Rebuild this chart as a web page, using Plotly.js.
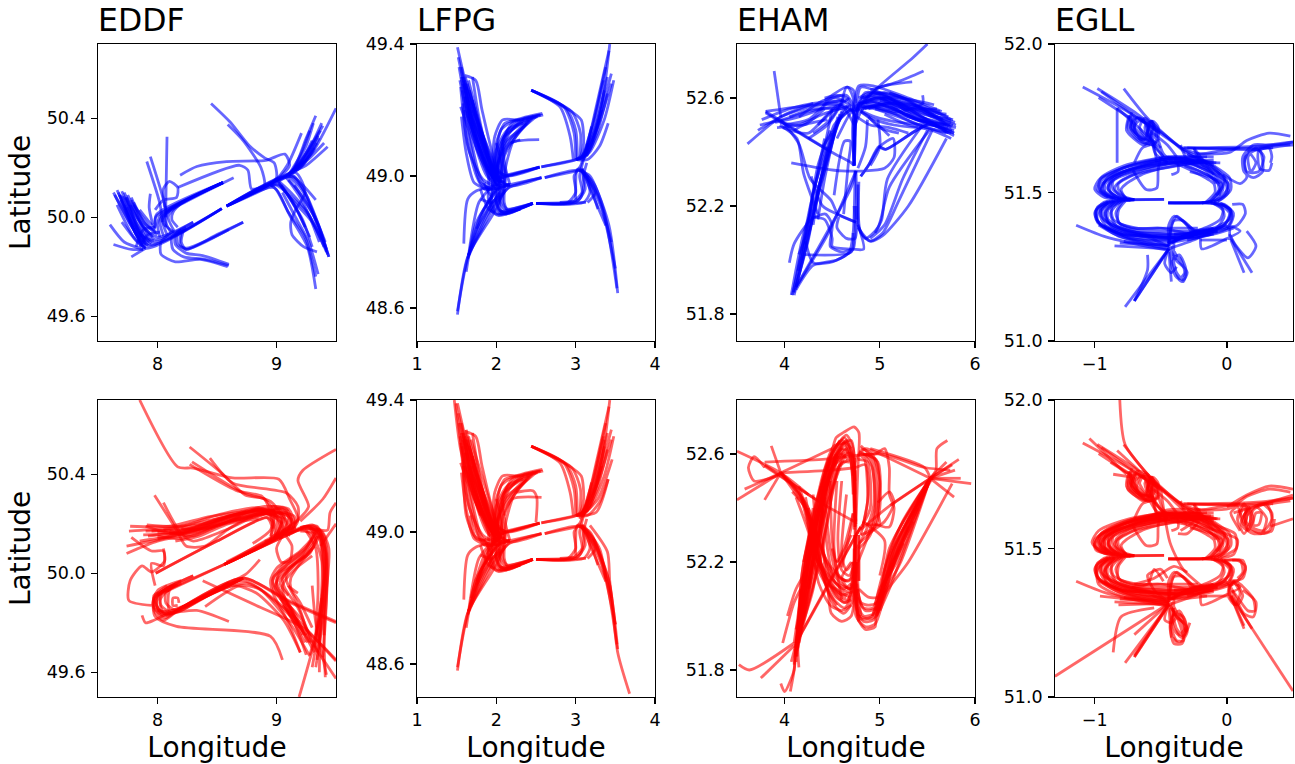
<!DOCTYPE html>
<html><head><meta charset="utf-8">
<script src="https://cdn.plot.ly/plotly-3.0.1.min.js"></script>
<style>html,body{margin:0;padding:0;background:#fff}</style></head>
<body><div id="chart" style="width:1295px;height:764px"></div>
<script>
// Each track is a flat list: lon,lat,lon,lat,...
const airports=["EDDF","LFPG","EHAM","EGLL"];
const eddfBlue=[
[7.63,50.10,7.80,49.95,7.90,49.875,8.54,50.035],[7.66,50.11,7.82,49.96,7.92,49.885,8.54,50.035],
[7.70,50.105,7.84,49.96,7.94,49.89,8.54,50.035],[7.72,50.10,7.86,49.97,7.96,49.90,8.54,50.035],
[7.75,50.09,7.87,49.97,7.98,49.91,8.3,49.98],[7.78,50.07,7.88,49.96,8.00,49.92,8.3,49.98],
[7.68,50.09,7.80,49.96,7.92,49.885],[7.74,50.08,7.84,49.94,7.95,49.895],[7.77,50.05,7.86,49.93,7.97,49.905],
[7.66,50.05,7.80,49.92,7.90,49.875],[7.70,49.98,7.83,49.90,7.90,49.875],[7.60,49.97,7.72,49.90,7.88,49.87],
[7.63,49.89,7.78,49.87,7.88,49.87],[7.78,49.84,7.90,49.875],
[7.64,50.09,7.76,49.98,7.88,49.89],[7.67,50.10,7.78,49.98,7.9,49.89],[7.69,50.09,7.79,49.99,7.9,49.9],[7.71,50.085,7.82,49.98,7.93,49.9],[7.73,50.08,7.84,49.99,7.96,49.92],
[7.69,50.07,7.78,49.97,7.86,49.9],[7.72,50.05,7.8,49.95,7.88,49.88],[7.74,50.04,7.82,49.93,7.9,49.885],[7.78,50.08,7.88,49.98,7.99,49.94],[7.8,50.06,7.9,49.97,8.0,49.93],
[7.82,49.88,7.88,49.95,7.98,49.96],[7.85,49.88,7.92,49.93,8.02,49.94],
[9.21,50.34,9.09,50.21,8.98,50.145,8.58,50.045],[9.33,50.41,9.25,50.32,9.12,50.18,8.58,50.045],
[9.39,50.37,9.22,50.24,9.10,50.175,8.58,50.045],[9.36,50.32,9.22,50.22,9.10,50.175,8.58,50.045],
[9.5,50.44,9.30,50.26,9.16,50.19],[9.43,50.285,9.25,50.21,9.16,50.19],[9.31,50.38,9.25,50.29,9.13,50.18],
[9.35,50.33,9.23,50.23,9.12,50.18],[9.34,50.30,9.22,50.21,9.11,50.17],[9.32,50.28,9.2,50.2,9.1,50.17],
[9.37,50.35,9.25,50.25,9.14,50.185],[9.30,50.31,9.2,50.22,9.1,50.17],[9.28,50.35,9.2,50.25,9.1,50.17],[9.38,50.38,9.28,50.28,9.15,50.19],[9.4,50.3,9.28,50.24,9.14,50.185],
[9.44,49.84,9.36,49.96,9.25,50.09,9.13,50.17,8.58,50.045],[9.43,49.85,9.34,49.97,9.24,50.10,9.12,50.165,8.58,50.045],
[9.41,49.90,9.30,50.03,9.20,50.12,9.10,50.165],[9.33,49.71,9.26,49.88,9.12,50.00,9.0,50.11,8.94,50.135],
[9.33,49.76,9.24,49.92,9.10,50.02,8.98,50.12,8.6,50.05],[9.33,50.07,9.22,50.13,9.13,50.165,8.6,50.05],
[9.34,49.86,9.23,49.88,9.13,49.93,9.12,49.98,9.16,50.03,9.24,50.10,9.16,50.18,8.6,50.05],
[9.42,49.86,9.30,49.98,9.15,50.06,9.02,50.13,8.95,50.13],[9.40,49.88,9.27,50.01,9.13,50.08,9.0,50.13,8.95,50.125],
[9.44,49.84,9.32,50.00,9.16,50.12,9.08,50.16],[9.38,49.91,9.26,50.02,9.12,50.10,9.02,50.145],
[9.42,49.87,9.35,49.97,9.25,50.06,9.15,50.13],[9.36,49.9,9.28,50.0,9.2,50.08,9.1,50.15],[9.3,49.88,9.22,49.99,9.12,50.07,9.02,50.14],[9.28,49.92,9.18,50.02,9.08,50.1,9.0,50.15],[9.24,49.96,9.14,50.06,9.04,50.13],[9.35,49.77,9.27,49.9,9.16,50.0,9.05,50.1],
[8.45,50.46,8.61,50.385,8.77,50.29,8.90,50.24,8.98,50.22,9.0,50.16,8.93,50.13],
[8.59,50.375,8.72,50.31,8.87,50.2,8.90,50.13,8.85,50.11],
[8.19,50.17,8.33,50.205,8.58,50.225,8.91,50.23,9.07,50.255,9.11,50.21,9.01,50.155,8.6,50.05],
[7.98,50.03,8.05,50.07,8.16,50.08,8.17,50.12,8.10,50.145,8.05,50.115,8.06,50.04],
[8.17,50.12,8.69,50.21,8.76,50.19,8.79,50.115,8.9,50.125],
[8.08,50.325,8.07,50.055,8.07,50.0],[7.94,50.245,8.07,50.03,8.07,49.96],[7.91,50.225,8.02,50.055,8.04,49.98],
[7.94,50.095,7.93,50.04,7.96,49.97],
[7.85,50.03,7.98,49.96,7.985,50.0,8.55,50.14],[7.80,50.05,7.97,49.95,7.99,50.01,8.55,50.14],
[8.64,50.16,8.2,50.053,8.06,50.01,8.05,49.975,8.14,49.94],[8.55,50.14,8.15,50.04,8.09,50.0,8.14,49.945],
[8.55,50.14,8.12,50.035,8.06,49.995,8.11,49.94],[8.55,50.14,8.1,50.03,8.04,49.99,8.08,49.93],
[8.55,50.14,8.07,50.02,8.02,49.985,8.05,49.925],[8.55,50.14,8.04,50.015,8.0,49.975,8.02,49.92],[8.55,50.14,8.2,50.055,8.13,50.02,8.12,49.99,8.17,49.96],
[8.72,49.98,8.24,49.875,8.17,49.89,8.17,49.93,8.24,49.95],[8.60,49.805,8.40,49.83,8.22,49.84,8.13,49.87,8.12,49.92,8.2,49.95],
[8.60,49.81,8.38,49.845,8.24,49.855,8.15,49.89,8.15,49.93,8.24,49.96],[8.59,49.80,8.36,49.83,8.15,49.82,8.03,49.85,8.03,49.9,8.13,49.945],
[8.72,49.98,8.5,49.93,8.24,49.87,8.2,49.9,8.22,49.95],[8.6,49.95,8.24,49.87,8.19,49.89,8.2,49.94]
];
const eddfRed=[
[7.77,50.19,8.10,50.19,8.45,50.23,8.92,50.255,9.06,50.23,9.1,50.18,9.0,50.14,8.56,50.035],
[7.91,50.195,8.2,50.19,8.5,50.235,8.85,50.265,9.03,50.22,9.05,50.17,8.97,50.135,8.56,50.035],
[7.88,50.155,8.2,50.165,8.5,50.22,8.85,50.25,9.0,50.22,9.0,50.17,8.92,50.125,8.56,50.035],
[8.0,50.14,8.3,50.17,8.55,50.215,8.88,50.24,9.1,50.24,9.13,50.19,9.0,50.14,8.56,50.035],
[7.74,50.11,8.05,50.14,8.35,50.18,8.6,50.23,8.9,50.255,9.15,50.23,9.15,50.18,9.02,50.14],
[7.74,50.08,8.0,50.13,8.3,50.16,8.6,50.21,8.85,50.24,9.05,50.26,9.12,50.2,9.0,50.14],
[7.78,50.145,7.95,50.09,8.05,50.09,8.05,50.03,7.95,50.04,7.98,49.95],
[8.05,50.1,8.06,50.05,7.95,50.005,7.87,50.03,7.77,49.97,7.76,49.89,7.95,49.87],
[7.975,50.315,8.16,50.175,8.24,50.11,8.4,50.11,8.6,50.18,8.9,50.25,9.05,50.2],
[8.05,50.285,8.2,50.16,8.3,50.13,8.55,50.17,8.88,50.24,9.05,50.24],
[8.1,50.16,8.35,50.19,8.6,50.23,8.9,50.26,9.12,50.22,9.08,50.15],[7.95,50.17,8.3,50.18,8.6,50.22,8.9,50.25,9.1,50.23,9.05,50.16],
[8.05,50.175,8.4,50.21,8.7,50.24,8.95,50.26,9.03,50.19,8.98,50.14],[7.92,50.15,8.25,50.17,8.55,50.2,8.85,50.26,8.98,50.21,8.95,50.15],
[7.9,50.17,8.25,50.18,8.55,50.225,8.9,50.27,9.08,50.26,9.14,50.2],[8.0,50.165,8.3,50.165,8.6,50.21,8.9,50.24,9.06,50.22,9.02,50.15],
[7.76,50.17,8.05,50.18,8.4,50.2,8.7,50.24,8.95,50.25],[7.9,50.19,8.15,50.16,8.45,50.19,8.7,50.22,8.92,50.24],[8.0,50.15,8.2,50.14,8.45,50.18,8.7,50.23],[7.85,50.13,8.1,50.15,8.4,50.19,8.75,50.25],
[8.1,50.17,8.3,50.15,8.5,50.19,8.8,50.23],[8.2,50.18,8.4,50.18,8.6,50.21,8.85,50.23,9.0,50.26,9.1,50.25],[8.15,50.13,8.35,50.15,8.6,50.2,8.85,50.22],
[8.95,50.27,9.1,50.26,9.15,50.2,9.1,50.15],[8.92,50.25,9.02,50.26,9.08,50.2,9.03,50.14],[8.95,50.24,9.04,50.22,9.0,50.15],
[7.985,50.0,8.5,50.13,8.92,50.225,8.98,50.2,8.98,50.14,8.9,50.13],[7.985,50.0,8.5,50.13,8.92,50.225,8.96,50.19,8.95,50.13],
[7.85,50.7,8.17,50.43,8.3,50.425,8.63,50.385,9.02,50.38,9.11,50.30,9.18,50.215,8.99,50.155,8.56,50.035],
[8.27,50.51,8.55,50.4,8.74,50.315,8.9,50.30,8.98,50.245,8.95,50.175,8.8,50.12],
[8.44,50.465,8.63,50.365,9.08,50.325,9.18,50.27,9.17,50.2,9.0,50.145],[8.27,50.44,8.66,50.335,8.88,50.31,8.94,50.26,8.97,50.18],
[8.29,50.45,8.72,50.325,8.95,50.29,9.05,50.22,9.0,50.15],
[9.5,50.5,9.22,50.415,9.18,50.375,9.27,50.27,9.2,50.225,9.0,50.15],[9.5,50.385,9.39,50.3,9.2,50.21],
[9.5,50.285,9.45,50.245,9.43,50.175,9.36,50.175,9.33,50.18],[9.5,50.2,9.37,50.11],
[9.33,49.62,9.4,49.85,9.44,50.1,9.38,50.17,9.28,50.19,9.14,50.165,8.56,50.035],[9.41,49.58,9.4,49.75,9.43,50.0,9.4,50.15,9.3,50.195,9.14,50.165,8.56,50.035],
[9.28,49.67,9.38,49.85,9.42,50.05,9.38,50.15,9.26,50.19,9.12,50.16],[9.4,49.75,9.4,49.9,9.4,50.1,9.33,50.18,9.2,50.18],
[9.36,49.73,9.41,49.95,9.36,50.15,9.25,50.19,9.1,50.16],[9.39,49.66,9.42,49.9,9.41,50.08,9.34,50.19,9.2,50.185],
[9.32,49.7,9.38,49.9,9.42,50.08,9.36,50.17,9.24,50.18],[9.34,49.65,9.38,49.85,9.39,50.0,9.36,50.14,9.28,50.18],[9.36,49.6,9.37,49.8,9.4,50.02,9.37,50.16],[9.3,49.62,9.36,49.8,9.38,50.05,9.3,50.17],[9.33,49.75,9.35,49.95,9.33,50.1,9.25,50.17],
[9.2,49.68,9.1,49.8,8.97,49.92,8.95,49.97,9.0,50.02,9.2,50.09,9.3,50.15,9.22,50.175,8.97,50.14],
[9.26,49.72,9.14,49.85,9.0,49.93,8.97,49.97,9.05,50.03,9.24,50.1,9.32,50.16,9.2,50.17],
[9.22,49.75,9.1,49.88,9.03,49.93,9.0,49.97,9.08,50.03,9.26,50.1,9.34,50.17,9.2,50.18],
[9.1,49.91,9.03,49.96,9.1,50.01,9.27,50.08,9.36,50.16,9.26,50.19],[9.3,49.72,9.18,49.86,9.07,49.94,9.05,49.98,9.13,50.03,9.28,50.08,9.34,50.15],
[9.18,49.92,9.1,49.95,9.08,49.99,9.16,50.04,9.3,50.1],[9.3,49.78,9.2,49.88,9.12,49.94,9.12,49.98,9.2,50.04,9.32,50.11],
[9.25,49.75,9.1,49.86,8.98,49.93,8.97,49.98,9.05,50.02,9.22,50.08,9.33,50.17],[9.2,49.78,9.06,49.9,9.0,49.95,9.02,50.0,9.12,50.03,9.25,50.08,9.35,50.15],
[9.24,49.72,9.1,49.84,9.03,49.91,8.99,49.95,9.08,50.01,9.24,50.07],[9.18,49.8,9.07,49.9,9.05,49.95,9.14,50.01,9.3,50.07],
[9.28,49.72,9.2,49.85,9.1,49.95],[9.25,49.67,9.15,49.8,9.03,49.9],[9.35,49.68,9.2,49.82,9.08,49.88],[9.32,49.68,9.2,49.78,9.05,49.87],
[9.05,50.15,9.0,50.1,9.04,50.045,9.11,50.05,9.13,50.11,9.08,50.15],
[9.5,49.805,9.1,49.89,8.72,49.98,8.2,49.86],[9.5,49.8,9.1,49.885,8.72,49.98,8.2,49.86],[9.5,49.645,9.08,49.855,8.72,49.97,8.2,49.86],[9.5,49.575,9.12,49.825,8.75,49.96,8.22,49.86],
[9.2,49.68,9.06,49.81,8.83,49.92,8.64,49.95,8.3,49.88],[9.28,49.665,9.11,49.8,8.86,49.935,8.69,49.95,8.4,49.865],
[9.19,49.5,9.33,49.745,9.38,49.9],[9.42,49.59,9.33,49.8,9.3,49.95],
[9.05,49.65,8.95,49.745,8.16,49.785,7.98,49.825,7.97,49.9,8.08,49.95],[8.6,49.805,8.33,49.85,8.1,49.84,8.0,49.85],
[8.72,49.98,8.2,49.86,8.05,49.81,7.97,49.85,7.98,49.9,8.08,49.94,8.3,49.99],[8.72,49.98,8.2,49.86,8.08,49.83,8.0,49.86,8.0,49.91,8.1,49.945,8.3,49.99],
[8.72,49.98,8.2,49.86,8.12,49.84,8.03,49.87,8.03,49.92,8.13,49.95],[8.7,49.975,8.2,49.86,8.15,49.85,8.07,49.88,8.07,49.92,8.15,49.955],
[8.7,49.975,8.22,49.865,8.1,49.85,8.1,49.93,8.17,49.955],[8.18,49.88,8.17,49.9,8.13,49.9,8.13,49.87,8.17,49.87],
[8.6,49.96,8.2,49.86,8.06,49.82,7.98,49.86,7.97,49.91,8.05,49.93,8.1,49.93],[8.6,49.96,8.18,49.85,8.04,49.83,7.96,49.87,8.0,49.93,8.2,49.97],
[8.6,49.96,8.15,49.84,8.03,49.84,7.99,49.88,8.03,49.92,8.12,49.95],[8.5,49.93,8.12,49.85,8.02,49.85,7.98,49.89,8.05,49.93,8.14,49.95],[8.4,49.91,8.2,49.85,8.05,49.84,8.02,49.89,8.08,49.93,8.2,49.96],
[7.87,49.83,7.9,49.8,7.97,49.81,8.1,49.84],[8.0,49.91,8.56,50.035],[8.0,49.915,8.56,50.035],[8.58,50.045,9.16,50.19],[8.58,50.04,9.16,50.185],
[8.86,50.055,8.74,49.995,8.55,49.95],[8.38,49.97,8.83,49.87,9.22,49.78,9.5,49.65]
];
const lfpgCommon=[
[2.13,49.003,2.546,49.027],[2.567,49.028,3.01,49.05],[2.17,48.974,2.57,48.995],[2.61,48.995,3.05,49.017],[2.04,48.89,2.46,48.917],[2.5,48.917,3.13,48.92],
[1.51,49.39,1.75,49.15,2.0,48.99,2.13,49.0,2.546,49.027],[1.56,49.3,1.72,49.13,1.97,49.0,2.13,49.0,2.546,49.027],
[1.61,49.3,1.8,49.14,2.0,49.0,2.17,48.97,2.57,48.995],[1.6,49.305,1.74,49.29,1.82,49.2,2.02,49.02,2.13,49.0,2.546,49.027],
[1.54,49.29,1.7,49.12,1.9,49.0,2.0,48.96,2.17,48.975],[1.55,49.21,1.65,49.14,1.79,49.0,1.9,48.96,2.17,48.974],
[1.58,49.28,1.72,49.16,1.96,49.01,2.06,48.97],[1.6,49.29,1.78,49.14,1.98,49.02,2.13,49.0],[1.63,49.28,1.82,49.13,2.02,49.0],
[1.55,49.27,1.62,49.12,1.75,49.0,1.85,48.96,2.17,48.974],[1.57,49.26,1.67,49.1,1.8,48.98,1.95,48.96],[1.62,49.27,1.8,49.09,1.95,49.0,2.1,48.98],
[1.66,49.26,1.86,49.08,2.0,48.97],[1.52,49.36,1.7,49.17,1.93,49.02,2.05,48.98],[1.56,49.33,1.74,49.12,1.92,49.01,2.02,48.97],
[1.53,49.33,1.66,49.17,1.85,49.04,2.0,48.98],[1.58,49.3,1.68,49.17,1.88,49.03,2.02,48.97],[1.6,49.24,1.7,49.12,1.88,49.0,2.02,48.97],[1.65,49.29,1.8,49.15,1.95,49.03,2.04,48.98],
[1.7,49.3,1.78,49.18,1.95,49.02,2.06,48.98],[1.58,49.22,1.65,49.08,1.83,48.99,1.97,48.97],[1.56,49.18,1.62,49.07,1.72,48.98,1.88,48.96],[1.66,49.2,1.83,49.05,1.98,48.98],[1.7,49.23,1.86,49.07,2.0,49.0],[1.62,49.24,1.76,49.08,1.94,48.99],
[2.59,49.185,2.3,49.17,2.08,49.17,1.98,49.12,1.96,49.04,2.04,48.98,2.17,48.974],[2.56,49.185,2.32,49.17,2.15,49.14,2.03,49.08,2.0,49.03,2.06,48.98],
[2.5,49.18,2.3,49.14,2.1,49.1,2.0,49.0],[2.45,49.175,2.25,49.12,2.1,49.06,2.06,49.0],[2.42,49.17,2.22,49.11,2.12,49.03,2.1,48.98],
[2.58,49.19,2.25,49.17,2.06,49.14,2.0,49.05,2.05,48.985],[2.55,49.185,2.2,49.16,2.08,49.1,2.12,49.02,2.17,48.975],[2.52,49.18,2.28,49.16,2.14,49.12,2.06,49.04,2.08,48.98],
[2.47,49.18,2.26,49.15,2.1,49.12,2.02,49.04,2.06,48.99],[2.4,49.17,2.2,49.12,2.08,49.08,1.98,49.0],[2.38,49.16,2.16,49.1,2.02,49.04,2.02,48.97],[2.34,49.16,2.14,49.14,2.0,49.08,1.96,49.0],[2.35,49.17,2.12,49.12,2.04,49.06,2.08,48.99],[2.3,49.17,2.11,49.16,2.0,49.1,1.98,49.02],
[1.51,48.58,1.64,48.755,1.96,48.885,2.13,48.96,2.57,48.995],[1.51,48.59,1.65,48.76,1.8,48.83,2.0,48.92,2.17,48.97],
[1.62,48.71,1.75,48.86,2.05,48.97],[1.59,48.795,1.64,48.93,1.75,48.955,2.0,48.97,2.17,48.974],[1.65,48.76,1.85,48.9,2.0,48.96],
[1.65,48.76,1.8,48.88,1.98,48.955],[1.65,48.76,1.78,48.92,1.95,48.97],[1.64,48.75,1.88,48.88,2.05,48.94],[1.67,48.78,1.9,48.9,2.08,48.96],[1.75,48.84,1.95,48.92,2.1,48.95],[1.8,48.93,1.95,48.92,2.03,48.95],[1.8,48.96,1.9,48.9,1.98,48.89],[1.85,48.98,1.93,48.94,1.98,48.98],
[1.6,49.28,1.95,49.0,1.94,48.92,2.03,48.885,2.46,48.917],[1.65,49.2,1.98,49.0,2.0,48.92,2.08,48.89,2.46,48.917],
[1.7,49.2,2.02,49.0,2.05,48.92,2.12,48.895,2.46,48.917],[2.0,49.1,2.1,49.0,2.08,48.92,2.14,48.9,2.46,48.917],
[1.6,49.2,1.9,49.0,1.9,48.93,2.0,48.885,2.46,48.917],[1.95,48.94,1.92,48.9,2.03,48.88,2.46,48.917],
[2.05,49.0,2.0,48.92,2.06,48.885,2.3,48.9],[2.12,49.0,2.1,48.92,2.15,48.895,2.3,48.9],[2.06,48.98,2.05,48.9,2.12,48.885,2.3,48.9],[2.1,48.96,2.02,48.9,2.1,48.89,2.3,48.9],
[3.43,49.4,3.32,49.2,3.18,49.08,3.01,49.05,2.567,49.028],[3.45,49.31,3.3,49.18,3.13,49.06,3.01,49.05],[3.48,49.29,3.36,49.17,3.17,49.07,3.01,49.05],
[3.41,49.16,3.3,49.09,3.15,49.05,3.01,49.05],[3.35,49.29,3.22,49.15,3.1,49.06,3.01,49.05],[3.42,49.38,3.25,49.2,3.12,49.06],[3.38,49.33,3.22,49.16,3.09,49.06],[3.40,49.25,3.27,49.13,3.14,49.06],
[3.4,49.3,3.25,49.15,3.13,49.07],[3.45,49.28,3.28,49.15,3.1,49.05],[3.33,49.2,3.2,49.1,3.05,49.05],[3.36,49.26,3.23,49.13,3.08,49.06],
[3.53,48.645,3.42,48.85,3.22,48.98,3.05,49.017,2.61,48.995],[3.52,48.66,3.35,48.9,3.18,49.0,3.05,49.017],[3.5,48.72,3.33,48.9,3.14,49.0],[3.45,48.8,3.28,48.94,3.1,49.01],
[3.38,48.85,3.2,48.95,3.08,49.02],[3.28,48.9,3.17,48.98,3.07,49.02],[3.15,48.92,3.25,48.95,3.15,49.0,3.08,49.02],
[2.5,48.917,2.9,48.92,3.0,48.95,2.98,49.0,3.06,49.03,3.15,49.1],[2.5,48.917,2.95,48.92,3.08,48.95,3.05,49.0,3.1,49.05,3.2,49.15],
[2.5,48.917,3.1,48.92,3.18,48.95,3.12,49.0,3.05,49.02],[2.5,48.917,3.0,48.92,3.12,48.96,3.1,49.0,3.14,49.04],[3.0,48.93,3.0,48.95,3.02,49.02,3.1,49.02],[2.8,48.92,3.05,48.93,3.1,48.97,3.08,49.02],
[2.44,49.26,2.92,49.2,3.07,49.17,3.1,49.1,3.06,49.06,3.0,49.05],[2.44,49.26,2.85,49.21,2.98,49.13,3.0,49.05],[2.44,49.26,2.8,49.21,2.93,49.12,2.97,49.05],
[2.44,49.26,2.88,49.205,3.0,49.14,3.02,49.05],[2.44,49.26,2.95,49.195,3.06,49.13,3.05,49.05]
];
const lfpgBlueOnly=[[2.54,49.11,2.18,49.1,2.08,49.05,2.13,49.0],[2.3,49.11,2.18,49.1]];
const lfpgRedOnly=[
[3.68,48.51,3.53,48.635,3.42,48.85,3.22,48.98],[1.47,49.4,1.55,49.25,1.72,49.1,1.95,49.0],[1.49,49.39,1.6,49.2,1.8,49.05],
[2.25,49.12,2.46,49.125,2.51,49.105,2.5,49.03],[2.57,49.105,2.2,49.1,2.1,49.05],[3.03,49.05,3.26,49.06,3.41,49.16],
[3.18,49.02,3.4,48.94,3.43,48.85,3.5,48.72],[3.1,49.02,3.3,48.95,3.38,48.86],[1.67,49.05,1.75,48.98,2.05,48.98],[1.68,48.78,1.9,48.92,2.1,48.98],
[1.68,48.8,1.85,48.93,2.05,48.99],[1.72,48.82,1.92,48.95,2.1,49.0],[1.75,48.85,1.98,48.98],[1.58,49.2,1.62,49.05,1.72,48.99,1.85,48.97],
[1.62,49.31,1.78,49.13,2.0,48.96],[1.68,49.28,1.88,49.12,2.04,49.0],[3.36,49.28,3.2,49.12,3.05,49.04],[3.46,49.22,3.28,49.1,3.08,49.05]
];
const ehamBlue=[
[4.74,52.53,4.73,52.35],[4.74,52.54,4.73,52.35],[4.75,52.33,4.76,52.15],[4.78,52.29,4.77,52.13],[3.8,52.55,4.49,52.4],[3.8,52.545,4.49,52.4,4.7,52.36,4.73,52.35],
[3.61,52.43,3.96,52.53,4.3,52.58],[3.89,52.7,3.96,52.53],[5.78,52.47,5.5,52.5,5.06,52.41,4.99,52.42,4.88,52.35,4.8,52.31],[5.78,52.48,5.5,52.5,5.06,52.41,4.99,52.42],
[5.8,52.5,5.4,52.55,5.0,52.6,4.75,52.57,4.73,52.35],[5.78,52.47,5.35,52.53,5.0,52.57,4.78,52.56,4.73,52.35],[5.75,52.52,5.4,52.58,5.05,52.62,4.8,52.59,4.74,52.5,4.73,52.35],
[5.72,52.53,5.3,52.58,4.95,52.6,4.78,52.56,4.73,52.4],[5.7,52.47,5.4,52.5,5.1,52.55,4.85,52.57,4.74,52.5],[5.57,52.575,5.2,52.6,4.9,52.6,4.74,52.55,4.73,52.35],
[5.68,52.5,5.3,52.53,5.0,52.6,4.76,52.57],[5.8,52.49,5.5,52.52,5.1,52.58,4.8,52.56],[5.65,52.55,5.3,52.6,4.93,52.645,4.78,52.645,4.72,52.55],
[5.45,52.61,5.45,52.58,5.2,52.55,4.9,52.57],[5.76,52.48,5.45,52.51,5.15,52.56,4.9,52.59],[5.79,52.51,5.45,52.55,5.1,52.6,4.82,52.58],
[5.74,52.5,5.42,52.53,5.05,52.59,4.85,52.58],[5.7,52.54,5.35,52.56,5.02,52.61,4.8,52.6],[5.6,52.56,5.25,52.56,4.98,52.58,4.78,52.58],[5.77,52.52,5.45,52.54,5.12,52.58,4.88,52.56],
[5.75,52.47,5.5,52.49,5.2,52.53,4.95,52.56],[5.72,52.49,5.38,52.52,5.08,52.57,4.84,52.56],
[5.77,52.5,5.4,52.52,5.1,52.6,4.85,52.62,4.75,52.55],[5.75,52.49,5.4,52.57,5.05,52.58,4.82,52.56],[5.72,52.47,5.3,52.56,5.0,52.62,4.8,52.64,4.76,52.58],[5.7,52.5,5.25,52.6,4.95,52.62,4.82,52.6],[5.66,52.52,5.2,52.6,4.9,52.62,4.78,52.6],
[5.6,52.5,5.2,52.54,4.95,52.56,4.8,52.57],[5.5,52.5,5.2,52.51,4.95,52.53,4.76,52.56],[5.4,52.49,5.15,52.5,4.95,52.52,4.8,52.55],[5.3,52.47,5.1,52.49,4.9,52.5,4.76,52.53],[5.2,52.47,5.0,52.49,4.88,52.53],[5.1,52.46,4.95,52.51,4.8,52.55],
[5.75,52.45,5.55,52.48,5.3,52.5,5.05,52.54],[5.78,52.46,5.5,52.51,5.2,52.55,4.98,52.58],[5.7,52.48,5.45,52.53,5.2,52.58,5.0,52.6],[5.63,52.55,5.3,52.57,5.0,52.59],[5.75,52.51,5.55,52.53,5.3,52.59,5.1,52.62],
[4.42,52.59,4.66,52.64,4.72,52.6,4.72,52.54],[4.4,52.57,4.5,52.6,4.65,52.61,4.74,52.56],[4.6,52.58,4.65,52.64,4.72,52.63,4.76,52.55],
[3.8,52.55,4.2,52.57,4.55,52.58,4.72,52.55,4.73,52.35],[3.72,52.48,3.96,52.53,4.3,52.57,4.6,52.57,4.73,52.5],[3.74,52.5,3.98,52.52,4.25,52.55,4.55,52.57],
[3.98,52.49,4.25,52.47,4.55,52.57,4.72,52.55],[4.05,52.53,4.3,52.56,4.6,52.56],[3.95,52.51,4.2,52.5,4.42,52.56],[3.92,52.49,4.15,52.5,4.4,52.54,4.68,52.57],
[4.0,52.5,4.25,52.52,4.45,52.58,4.65,52.59],[3.9,52.51,4.15,52.53,4.4,52.56],[3.76,52.52,4.05,52.56,4.3,52.58,4.6,52.59],[4.35,52.5,4.5,52.55,4.68,52.6],[4.3,52.47,4.48,52.52,4.62,52.6],[4.25,52.45,4.45,52.5,4.6,52.58],
[4.4,52.42,4.55,52.5,4.66,52.57],[4.5,52.44,4.58,52.52,4.7,52.56],[4.55,52.45,4.65,52.52,4.72,52.56],[4.15,52.53,4.4,52.59,4.55,52.6,4.7,52.57],[4.42,52.6,4.55,52.61,4.65,52.6,4.74,52.53],
[3.96,52.52,4.15,52.43,4.27,52.3,4.49,52.22,4.56,52.17,4.75,52.14],
[4.08,51.87,4.22,52.07,4.28,52.15,4.38,52.3,4.52,52.5,4.7,52.56],[4.07,51.87,4.2,52.1,4.3,52.2,4.42,52.35,4.56,52.53],[4.1,51.88,4.24,52.06,4.32,52.2,4.46,52.38,4.58,52.54],
[4.1,51.87,4.26,52.1,4.35,52.25,4.5,52.45,4.6,52.55],[4.12,51.9,4.27,52.12,4.38,52.28,4.52,52.46,4.62,52.56],[4.09,51.88,4.18,52.04,4.27,52.2,4.42,52.42,4.5,52.56],
[4.35,52.15,4.42,52.3,4.53,52.48],[4.3,52.13,4.38,52.3,4.5,52.47],[4.18,52.0,4.28,52.2,4.42,52.45],[4.14,51.96,4.25,52.15,4.35,52.35,4.48,52.48],[4.15,52.02,4.25,52.12,4.3,52.25,4.45,52.42],
[4.12,51.9,4.7,52.27,4.75,52.33],[4.12,51.9,4.46,52.1,4.75,52.33],[4.05,51.99,4.1,52.06,4.28,52.15,4.43,52.17,4.5,52.13,4.48,52.05,4.6,52.03,4.7,52.04],
[4.07,52.36,4.6,52.33,5.05,52.34,5.15,52.38,5.14,52.45,5.0,52.42,4.88,52.35,4.8,52.31],
[4.28,52.16,4.42,52.15,4.5,52.08,4.5,52.05,4.72,52.04,4.83,52.04,4.77,52.13],[4.22,52.07,4.3,51.99,4.47,51.99,4.55,52.0,4.72,52.04,4.73,52.2],
[4.57,52.16,4.55,52.12,4.65,52.08,4.74,52.08,4.75,52.2],[4.12,51.89,4.3,51.98,4.55,52.0,4.68,52.03,4.72,52.1,4.74,52.33],[4.21,52.02,4.7,52.03,4.72,52.1],
[4.52,52.24,4.63,52.44,4.69,52.44,4.67,52.36,4.62,52.17],[4.28,52.31,4.4,52.2,4.55,52.17,4.75,52.14],
[5.55,52.48,5.2,52.22,5.03,52.1,4.9,52.07,4.8,52.1,4.77,52.28],[5.52,52.48,5.1,52.27,4.98,52.12,4.85,52.08,4.77,52.13],[5.7,52.45,5.3,52.2,5.03,52.09,4.9,52.07,4.77,52.12],
[5.45,52.5,5.08,52.3,5.02,52.15,4.95,52.1],[5.5,52.48,5.24,52.3,5.05,52.13,4.9,52.08],[4.87,52.52,4.85,52.42,4.77,52.34],[4.98,52.52,5.0,52.42,4.9,52.35],
[5.5,52.8,5.35,52.75,4.95,52.63,4.74,52.55],[5.46,52.7,5.19,52.66,4.9,52.63],[5.34,52.66,5.0,52.64,4.8,52.58],
[3.95,52.5,4.13,52.45,4.2,52.32,4.35,52.17],[4.1,52.48,4.2,52.5,4.45,52.52]
];
const ehamRed=[
[4.12,51.83,4.13,51.92,4.31,52.3,4.5,52.57,4.62,52.64,4.7,52.6,4.74,52.4,4.75,52.33],[4.15,51.81,4.14,51.92,4.33,52.3,4.53,52.58,4.65,52.65,4.72,52.58,4.74,52.33],
[4.07,51.83,4.12,51.9,4.3,52.25,4.42,52.45,4.55,52.6,4.63,52.63,4.7,52.56,4.74,52.33],[4.1,51.82,4.13,51.91,4.36,52.3,4.48,52.5,4.6,52.62,4.68,52.6,4.72,52.45],
[4.13,51.85,4.15,51.95,4.25,52.2,4.4,52.45,4.53,52.62,4.65,52.67,4.72,52.62,4.74,52.4],
[4.12,51.9,4.28,52.25,4.47,52.56,4.54,52.66,4.62,52.68,4.73,52.7,4.78,52.68,4.77,52.55,4.75,52.35],
[4.13,51.92,4.32,52.2,4.42,52.45,4.58,52.63,4.7,52.65,4.74,52.5],[4.14,51.92,4.37,52.2,4.5,52.45,4.62,52.6,4.7,52.6,4.74,52.45],
[4.11,51.88,4.22,52.2,4.36,52.45,4.5,52.6,4.63,52.66,4.73,52.58],[4.12,51.85,4.2,52.15,4.38,52.42,4.46,52.58,4.6,52.65,4.7,52.62],
[4.14,51.88,4.27,52.16,4.44,52.42,4.56,52.58,4.66,52.62,4.72,52.52],[4.1,51.9,4.26,52.28,4.4,52.52,4.52,52.63,4.66,52.64],
[4.13,51.87,4.3,52.17,4.47,52.44,4.6,52.57,4.68,52.57],[4.12,51.95,4.33,52.25,4.46,52.5,4.58,52.6,4.66,52.58],
[4.14,51.9,4.2,52.1,4.3,52.3,4.45,52.5,4.55,52.6],[4.12,51.86,4.18,52.08,4.28,52.28,4.42,52.52],[4.13,51.88,4.24,52.14,4.32,52.34,4.45,52.55,4.6,52.62],[4.14,51.92,4.26,52.1,4.34,52.35,4.5,52.55,4.66,52.6],
[4.13,51.9,4.22,52.04,4.36,52.38,4.54,52.6],[4.15,51.93,4.3,52.1,4.4,52.35,4.55,52.52,4.64,52.6],[4.15,51.9,4.32,52.15,4.45,52.35,4.56,52.55,4.68,52.58],[4.14,51.95,4.2,52.2,4.35,52.4,4.48,52.58],
[4.25,52.1,4.35,52.3,4.48,52.52,4.62,52.62],[4.2,52.2,4.33,52.42,4.5,52.6],[4.2,52.1,4.3,52.32,4.43,52.55,4.58,52.65],
[3.96,52.53,4.15,52.46,4.3,52.25,4.4,52.15,4.5,52.05,4.62,52.01,4.72,52.06,4.73,52.3],[3.96,52.53,4.18,52.44,4.3,52.25,4.42,52.13,4.52,52.06,4.63,52.03,4.71,52.08,4.74,52.3],
[3.96,52.53,4.2,52.42,4.32,52.22,4.44,52.14,4.54,52.07,4.65,52.05,4.71,52.1,4.73,52.25],[4.08,52.46,4.22,52.4,4.36,52.2,4.47,52.12,4.56,52.08,4.66,52.06,4.72,52.12],
[4.05,52.5,4.25,52.4,4.38,52.25,4.5,52.14,4.6,52.1,4.68,52.09,4.72,52.15],[3.96,52.53,4.25,52.38,4.42,52.22,4.52,52.15,4.6,52.12,4.68,52.1,4.74,52.18],
[4.15,52.48,4.28,52.35,4.45,52.2,4.57,52.15,4.64,52.13,4.7,52.14,4.72,52.2],[4.3,52.2,4.45,52.1,4.49,52.01,4.6,51.98,4.7,52.0,4.74,52.2],
[4.12,52.44,4.26,52.3,4.36,52.12,4.48,52.04,4.6,52.02,4.7,52.04],[4.18,52.44,4.32,52.3,4.44,52.12,4.54,52.1,4.68,52.07],
[4.3,52.45,4.38,52.2,4.5,52.1,4.62,52.05,4.7,52.06],[4.22,52.44,4.33,52.25,4.42,52.16,4.55,52.09,4.65,52.07],[4.25,52.4,4.3,52.3,4.4,52.18,4.55,52.12,4.7,52.1],[4.35,52.4,4.4,52.25,4.5,52.12,4.6,52.08,4.72,52.09],
[4.4,52.4,4.45,52.25,4.52,52.13,4.62,52.1,4.7,52.12],[4.42,52.44,4.48,52.25,4.55,52.15,4.65,52.13],[4.55,52.5,4.52,52.25,4.58,52.14,4.68,52.13,4.72,52.18],[4.6,52.5,4.56,52.28,4.6,52.17,4.68,52.15,4.73,52.2],
[4.65,52.45,4.6,52.22,4.65,52.17,4.72,52.2],[4.48,52.5,4.5,52.28,4.6,52.06],[4.38,52.48,4.4,52.3,4.45,52.1,4.55,52.04],[4.5,52.25,4.55,52.2,4.7,52.3],[4.55,52.2,4.62,52.25,4.72,52.38],
[5.53,52.51,5.2,52.25,5.03,52.05,4.95,51.97,4.85,51.96,4.75,52.0,4.75,52.33],[5.53,52.51,5.15,52.25,5.0,52.03,4.93,51.985,4.83,51.98,4.76,52.02,4.75,52.3],
[5.53,52.51,5.1,52.25,4.98,52.03,4.9,51.995,4.8,51.99,4.75,52.05,4.76,52.2],[5.55,52.51,5.2,52.28,5.05,52.08,4.95,52.01,4.83,52.0,4.76,52.05,4.76,52.2],
[5.53,52.51,5.25,52.28,5.08,52.13,4.97,52.03,4.85,52.02,4.76,52.07],[5.53,52.51,5.18,52.2,5.0,52.1,4.93,52.03,4.83,52.03,4.76,52.1],
[5.5,52.5,5.13,52.2,4.97,52.05,4.88,52.04,4.8,52.05,4.76,52.12],[5.53,52.51,5.3,52.32,5.1,52.16,4.98,52.07,4.88,52.07,4.78,52.1],
[5.53,52.51,5.22,52.2,5.02,52.07,4.96,52.0,4.95,51.96,4.85,51.95,4.77,51.99,4.76,52.1],[5.76,52.49,5.3,52.2,5.05,52.08,4.97,52.0],
[5.53,52.51,5.17,52.3,5.02,52.14,4.95,52.04],[5.53,52.51,5.24,52.35,5.06,52.18,4.98,52.05],[5.53,52.51,5.28,52.27,5.1,52.1,5.0,52.02],
[5.53,52.51,5.12,52.22,4.96,52.0,4.88,51.99,4.78,52.0],[5.5,52.48,5.15,52.25,5.02,52.08,4.92,52.0],[5.45,52.45,5.1,52.22,4.98,52.01],[5.4,52.4,5.12,52.2,4.98,52.05],[5.35,52.35,5.1,52.17,4.96,52.02],[5.3,52.33,5.08,52.15,4.95,52.02],[5.25,52.27,5.05,52.12,4.93,52.01],
[4.77,52.25,4.77,52.12,4.8,52.0],[4.75,52.3,4.75,52.1,4.78,51.98],[4.74,52.3,4.74,52.1,4.77,52.0],
[5.53,52.51,5.0,52.6,4.85,52.62,4.75,52.58,4.75,52.34],[4.8,52.63,4.93,52.58,4.97,52.44,4.9,52.3,4.78,52.25],[4.78,52.61,4.9,52.58,4.95,52.4,4.88,52.3,4.77,52.2],
[4.77,52.58,4.87,52.57,4.9,52.4,4.84,52.35,4.75,52.3],[4.75,52.55,4.85,52.56,4.88,52.45,4.82,52.33],[4.8,52.6,4.95,52.6,5.05,52.62,5.1,52.55,5.1,52.45,5.15,52.4,5.1,52.33,4.95,52.34],
[4.82,52.6,4.96,52.58,4.99,52.42,4.93,52.32,4.78,52.27],[4.85,52.6,4.98,52.57,5.0,52.4,4.95,52.33,4.8,52.3],[4.83,52.6,4.92,52.55,4.94,52.42,4.86,52.32,4.76,52.25],[4.78,52.6,4.84,52.58,4.87,52.42,4.8,52.3],[4.82,52.35,5.05,52.28,5.0,52.15],
[4.8,52.62,4.92,52.6,5.0,52.5,4.98,52.38,5.0,52.34,4.85,52.34],[4.78,52.3,4.78,52.13],[4.78,52.3,4.78,52.13],[4.73,52.54,4.73,52.32],[4.74,52.54,4.74,52.3],
[3.79,52.56,4.38,52.42,4.73,52.35],[3.79,52.555,4.38,52.42],[4.12,51.9,4.8,52.33],[4.12,51.9,4.46,52.12,4.8,52.33],[5.53,52.51,5.11,52.41,4.8,52.32],[5.53,52.51,5.11,52.41],
[3.5,52.61,3.96,52.53,4.25,52.45],[3.5,52.43,3.96,52.53],[3.58,52.47,3.96,52.53,4.5,52.62],[3.79,52.43,3.96,52.53],[3.86,52.63,3.96,52.53],
[3.79,52.55,3.68,52.59,3.62,52.55,3.68,52.5,3.93,52.52],[3.79,52.57,4.4,52.58,5.01,52.6,5.47,52.55,5.74,52.54],[4.9,52.62,5.47,52.55,5.53,52.51],[3.96,52.53,4.5,52.54,4.75,52.55],
[5.96,52.49,5.53,52.51],[5.78,52.44,5.53,52.51],[5.83,52.58,5.53,52.51],[5.71,52.65,5.6,52.62,5.59,52.54,5.53,52.51],[5.76,52.56,5.53,52.51],[5.79,52.54,5.53,52.51],[5.85,52.51,5.53,52.51],[5.7,52.57,5.53,52.51],
[4.1,51.9,3.63,51.8,3.52,51.82],[3.75,51.77,4.1,51.89],[3.96,51.75,4.0,51.72,4.1,51.8,4.11,51.88],[4.06,51.72,4.1,51.8,4.12,51.9],[3.98,51.9,4.1,52.05,4.17,52.1],[4.03,52.0,4.12,52.1,4.25,52.18],
[4.13,51.9,4.18,52.15,4.26,52.3],[4.14,51.95,4.22,52.2,4.3,52.4],[4.7,52.2,4.6,52.14,4.68,52.1,4.74,52.12],[4.6,52.18,4.7,52.33,4.72,52.38],[4.85,52.3,5.05,52.35,5.15,52.42,5.1,52.46,4.98,52.42]
];
const egllCommon=[
[-0.74,51.475,-0.475,51.477],[-0.74,51.476,-0.475,51.477],[-0.444,51.465,-0.19,51.465],[-0.444,51.465,-0.19,51.466],
[-0.08,51.6,-0.41,51.615,-0.76,51.585,-0.96,51.546,-1.0,51.512,-0.93,51.484,-0.73,51.475],[-0.1,51.6,-0.4,51.61,-0.72,51.58,-0.9,51.55,-0.95,51.51,-0.88,51.485,-0.73,51.475],
[-0.1,51.61,-0.4,51.6,-0.68,51.575,-0.85,51.55,-0.9,51.515,-0.83,51.485,-0.7,51.476],[-0.15,51.6,-0.4,51.6,-0.65,51.57,-0.8,51.54,-0.85,51.515,-0.8,51.485,-0.7,51.476],
[-0.2,51.6,-0.4,51.59,-0.62,51.565,-0.76,51.53,-0.8,51.51,-0.77,51.485,-0.7,51.476],[-0.1,51.59,-0.4,51.62,-0.74,51.59,-0.93,51.55,-0.98,51.51,-0.9,51.484],
[-0.2,51.62,-0.5,51.61,-0.78,51.57,-0.94,51.53,-0.96,51.505,-0.86,51.48],[-0.25,51.61,-0.55,51.6,-0.8,51.56,-0.88,51.53,-0.88,51.5,-0.8,51.48],
[-0.3,51.6,-0.6,51.59,-0.84,51.56,-0.92,51.53,-0.92,51.5,-0.84,51.48],[-0.05,51.6,-0.45,51.6,-0.7,51.57,-0.86,51.54,-0.86,51.51,-0.76,51.48],
[-0.1,51.62,-0.45,51.62,-0.78,51.59,-0.95,51.55,-0.97,51.52,-0.92,51.49,-0.75,51.476],[-0.15,51.62,-0.5,51.61,-0.8,51.58,-0.92,51.54,-0.94,51.51,-0.85,51.482],[-0.2,51.61,-0.5,51.6,-0.75,51.575,-0.87,51.55,-0.9,51.51,-0.82,51.482],[-0.25,51.6,-0.5,51.58,-0.7,51.56,-0.82,51.53,-0.82,51.51,-0.76,51.48],
[-0.07,51.37,-0.4,51.35,-0.78,51.36,-0.95,51.39,-1.0,51.43,-0.93,51.467,-0.73,51.475],[-0.07,51.37,-0.4,51.35,-0.75,51.36,-0.92,51.39,-0.96,51.43,-0.89,51.467,-0.73,51.475],
[-0.1,51.37,-0.4,51.355,-0.72,51.36,-0.88,51.39,-0.92,51.43,-0.85,51.467,-0.7,51.475],[-0.15,51.37,-0.4,51.36,-0.68,51.365,-0.84,51.39,-0.88,51.43,-0.81,51.467,-0.7,51.475],
[-0.2,51.37,-0.4,51.37,-0.65,51.37,-0.8,51.39,-0.84,51.43,-0.79,51.47],[-0.1,51.38,-0.45,51.34,-0.8,51.35,-0.97,51.4,-0.99,51.44,-0.9,51.47],
[-0.12,51.36,-0.45,51.345,-0.76,51.37,-0.93,51.41,-0.94,51.445,-0.85,51.47],[-0.2,51.35,-0.5,51.35,-0.8,51.38,-0.9,51.41,-0.9,51.44,-0.82,51.47],
[-0.25,51.35,-0.55,51.35,-0.85,51.38,-0.95,51.42,-0.95,51.45,-0.86,51.47],[-0.1,51.36,-0.5,51.33,-0.82,51.36,-0.99,51.41,-0.98,51.45,-0.88,51.47],
[-0.15,51.37,-0.45,51.34,-0.8,51.36,-0.98,51.4,-0.97,51.44,-0.9,51.465],[-0.2,51.36,-0.45,51.36,-0.74,51.37,-0.9,51.4,-0.92,51.44,-0.84,51.47],[-0.22,51.38,-0.45,51.38,-0.68,51.38,-0.82,51.4,-0.82,51.44,-0.77,51.47],[-0.28,51.36,-0.5,51.38,-0.72,51.38,-0.86,51.41,-0.87,51.45,-0.8,51.47],
[-0.45,51.62,-0.15,51.59,-0.03,51.55,0.0,51.51,-0.08,51.475,-0.19,51.465,-0.444,51.465],[-0.4,51.61,-0.15,51.58,-0.04,51.54,-0.03,51.51,-0.1,51.475,-0.19,51.465],
[-0.35,51.6,-0.2,51.57,-0.08,51.54,-0.06,51.51,-0.13,51.47,-0.19,51.465],[-0.4,51.6,-0.25,51.57,-0.1,51.53,-0.09,51.5,-0.16,51.467],
[-0.33,51.645,-0.1,51.59,0.02,51.55,0.03,51.51,-0.05,51.475,-0.19,51.465],[-0.3,51.63,-0.08,51.58,0.0,51.54,0.01,51.5,-0.07,51.47],
[-0.3,51.61,-0.12,51.58,-0.02,51.55,-0.03,51.52,-0.12,51.47],[-0.32,51.59,-0.15,51.56,-0.05,51.52,-0.08,51.49],[-0.3,51.6,-0.08,51.56,0.01,51.53,-0.02,51.49,-0.1,51.47],[-0.28,51.57,-0.12,51.55,-0.04,51.53,-0.06,51.49],
[-0.45,51.33,-0.15,51.37,0.02,51.39,0.05,51.43,-0.02,51.46,-0.19,51.465,-0.444,51.465],[-0.4,51.34,-0.15,51.37,-0.02,51.39,0.02,51.43,-0.06,51.46,-0.19,51.465],
[-0.35,51.35,-0.12,51.39,-0.05,51.41,-0.03,51.44,-0.1,51.463],[-0.4,51.36,-0.1,51.37,0.0,51.4,0.03,51.44,-0.05,51.465],
[-0.3,51.36,-0.1,51.38,0.02,51.41,0.03,51.44,-0.04,51.46],[-0.25,51.37,-0.08,51.38,-0.02,51.42,-0.04,51.45,-0.12,51.465],[-0.3,51.34,-0.12,51.36,0.0,51.38,0.04,51.42,0.0,51.45,-0.1,51.465],
[0.04,51.46,0.12,51.46,0.14,51.43,0.08,51.39,0.0,51.38],
[-0.33,51.645,-0.2,51.63,-0.05,51.64,0.1,51.65],[-0.33,51.64,-0.25,51.62,-0.15,51.6,-0.05,51.56],[-0.35,51.66,-0.3,51.61,-0.15,51.57,-0.08,51.53],[-0.25,51.65,-0.2,51.6,-0.1,51.56],[-0.25,51.65,-0.15,51.59,-0.05,51.53],
[-0.45,51.32,-0.3,51.36,-0.15,51.37,-0.0,51.39],[-0.44,51.31,-0.25,51.34,-0.1,51.37,0.02,51.38],[-0.42,51.33,-0.25,51.37,-0.1,51.38],[-0.44,51.33,-0.3,51.35,-0.1,51.36,0.05,51.38],[-0.44,51.32,-0.7,51.34,-0.9,51.38],[-0.44,51.31,-0.65,51.33,-0.85,51.36,-0.97,51.39],[-0.45,51.32,-0.6,51.35,-0.8,51.36,-0.93,51.39],
[-1.09,51.855,-0.76,51.775,-0.33,51.645],[-0.98,51.85,-0.68,51.765,-0.33,51.645],[-0.78,51.85,-0.6,51.75,-0.33,51.64],[-0.97,51.82,-0.73,51.75],[-0.95,51.84,-0.7,51.76,-0.5,51.7],
[-0.73,51.76,-0.75,51.72,-0.68,51.68,-0.6,51.665,-0.57,51.7,-0.63,51.74,-0.68,51.75,-0.7,51.71,-0.62,51.67,-0.55,51.66,-0.53,51.7,-0.57,51.74,-0.62,51.72,-0.58,51.67,-0.5,51.63,-0.45,51.6],
[-0.72,51.77,-0.73,51.72,-0.66,51.69,-0.6,51.68,-0.56,51.72,-0.62,51.75,-0.66,51.72,-0.6,51.68,-0.53,51.67,-0.52,51.72,-0.56,51.74,-0.6,51.7,-0.55,51.65,-0.53,51.6],
[-0.71,51.76,-0.72,51.73,-0.66,51.7,-0.58,51.67,-0.54,51.7,-0.57,51.74,-0.6,51.71,-0.56,51.67,-0.48,51.62],
[-0.74,51.76,-0.76,51.71,-0.7,51.68,-0.63,51.66,-0.58,51.68,-0.6,51.73,-0.65,51.75,-0.7,51.75,-0.73,51.72,-0.66,51.68,-0.58,51.68,-0.56,51.72,-0.6,51.73,-0.58,51.69,-0.54,51.65],
[-0.69,51.75,-0.72,51.72,-0.67,51.69,-0.62,51.68,-0.6,51.71,-0.63,51.74,-0.67,51.74,-0.7,51.72,-0.64,51.67,-0.55,51.66],
[-0.56,51.66,-0.54,51.63,-0.45,51.6],[-0.52,51.68,-0.48,51.63,-0.4,51.6],[-0.56,51.7,-0.45,51.66,-0.38,51.62],
[-0.71,51.575,-0.61,51.51,-0.53,51.515,-0.52,51.575,-0.5,51.62],[-0.7,51.6,-0.64,51.65,-0.58,51.66],[-0.42,51.56,-0.37,51.57,-0.37,51.6],
[0.5,51.67,0.2,51.65,-0.33,51.65],[0.5,51.67,0.2,51.655,-0.33,51.65],[0.48,51.66,0.2,51.645,-0.3,51.65],[0.48,51.69,0.32,51.7,0.15,51.675,0.02,51.635,-0.23,51.63],
[-1.14,51.39,-0.91,51.35,-0.44,51.305],[-0.81,51.33,-0.44,51.32],[-0.85,51.32,-0.44,51.31],[-0.78,51.335,-0.44,51.32],
[-0.77,51.115,-0.44,51.31],[-0.7,51.135,-0.44,51.31],[-0.7,51.135,-0.44,51.31],[-0.42,51.2,-0.44,51.31],
[-0.43,51.31,-0.38,51.27,-0.31,51.24,-0.33,51.2,-0.39,51.22,-0.42,51.27,-0.36,51.29,-0.31,51.24,-0.34,51.2,-0.4,51.23,-0.43,51.3],
[-0.42,51.32,-0.36,51.27,-0.3,51.23,-0.33,51.205,-0.38,51.23,-0.41,51.27,-0.36,51.28,-0.32,51.23,-0.36,51.21,-0.4,51.26,-0.4,51.33],
[-0.44,51.32,-0.4,51.405,-0.33,51.405,-0.23,51.36],[-0.44,51.31,-0.42,51.39,-0.38,51.42,-0.3,51.39,-0.2,51.36],[-0.44,51.33,-0.44,51.39,-0.4,51.42,-0.32,51.4,-0.26,51.36],
[-0.2,51.34,0.0,51.34],[-0.2,51.345,-0.19,51.31,0.0,51.345,0.1,51.37,0.03,51.385,0.02,51.34],[0.03,51.345,0.19,51.23],[0.03,51.34,0.13,51.23]
];
const egllBlueOnly=[
[0.5,51.66,0.3,51.66,0.2,51.66,0.12,51.62,0.13,51.57,0.2,51.55,0.27,51.57,0.25,51.64,0.17,51.64,0.13,51.6,0.15,51.55,0.1,51.53,-0.03,51.56],
[0.35,51.65,0.26,51.65,0.14,51.62,0.15,51.57,0.24,51.57,0.28,51.62,0.22,51.65,0.16,51.62,0.18,51.57,0.22,51.6,0.16,51.64],
[0.33,51.6,0.34,51.62,0.32,51.65,0.24,51.64,0.25,51.58,0.32,51.575,0.34,51.6],[-0.83,51.785,-0.83,51.6],[-0.83,51.785,-0.5,51.65],[-0.6,51.29,-0.6,51.24,-0.7,51.135],
[0.15,51.37,0.22,51.32,0.16,51.28,0.07,51.32,0.02,51.36],[-0.45,51.3,-0.47,51.26,-0.42,51.23,-0.38,51.25]
];
const egllRedOnly=[
[-0.81,52.0,-0.77,51.85,-0.58,51.74,-0.33,51.63],[-1.3,51.07,-0.44,51.315],[0.5,51.02,0.03,51.34],[0.03,51.34,0.13,51.24],[0.5,51.7,0.32,51.71,0.15,51.68,0.0,51.64],[0.5,51.68,0.05,51.62],
[0.5,51.6,0.33,51.575],[-0.86,51.15,-0.8,51.27,-0.55,51.3],[-0.7,51.14,-0.44,51.315],[-0.7,51.21,-0.44,51.315],[-0.5,51.7,-0.43,51.52,-0.33,51.43,-0.18,51.37],
[-1.04,51.87,-0.76,51.75],[-0.83,51.83,-0.66,51.76],[-0.88,51.79,-0.72,51.745],[-0.86,51.75,-0.72,51.74],[-0.96,51.34,-0.44,51.315],[-0.82,51.31,-0.44,51.315],
[0.35,51.65,0.26,51.65,0.14,51.62,0.11,51.58,0.2,51.55,0.32,51.56,0.34,51.62,0.26,51.65,0.16,51.62,0.15,51.57,0.26,51.55,0.3,51.6,0.22,51.64,0.14,51.6,0.16,51.56],
[0.36,51.6,0.34,51.56,0.26,51.55,0.18,51.57,0.2,51.63,0.3,51.65,0.34,51.6,0.28,51.56,0.2,51.57,0.22,51.62,0.26,51.62,0.24,51.58,0.16,51.58,0.13,51.61,0.18,51.64],
[0.12,51.6,0.16,51.56,0.2,51.6,0.16,51.64,0.12,51.6,0.08,51.64,0.03,51.62,0.1,51.56],[0.08,51.6,0.13,51.55,0.18,51.6,0.13,51.65,0.08,51.6],[0.1,51.61,0.13,51.58,0.15,51.61,0.13,51.64,0.1,51.61],
[0.1,51.38,0.2,51.33,0.21,51.29,0.16,51.29,0.09,51.33,0.03,51.37,0.05,51.39,0.1,51.38],[0.12,51.36,0.22,51.32,0.2,51.27,0.13,51.28,0.07,51.33,0.04,51.36],
[0.08,51.38,0.12,51.34,0.08,51.31,0.03,51.33,0.02,51.37,0.06,51.39],[0.05,51.39,0.1,51.35,0.06,51.31,0.01,51.34,0.02,51.38],
[-0.43,51.31,-0.38,51.27,-0.31,51.24,-0.34,51.18,-0.4,51.18,-0.43,51.24,-0.4,51.28,-0.33,51.27,-0.3,51.22,-0.36,51.18,-0.41,51.2],[-0.42,51.3,-0.36,51.25,-0.33,51.19,-0.38,51.19,-0.42,51.24,-0.37,51.27,-0.31,51.22,-0.28,51.25],
[-0.45,51.3,-0.47,51.26,-0.42,51.25,-0.4,51.3],
[-0.07,51.6,-0.4,51.62,-0.74,51.6,-0.97,51.56,-1.02,51.52,-0.96,51.49,-0.8,51.476],[-0.12,51.61,-0.4,51.625,-0.7,51.6,-0.95,51.55,-1.0,51.51,-0.9,51.482],[-0.18,51.6,-0.4,51.61,-0.66,51.6,-0.9,51.56,-0.96,51.52,-0.88,51.485],
[-0.2,51.63,-0.45,51.63,-0.72,51.58,-0.92,51.54,-0.92,51.505,-0.82,51.48],[-0.3,51.62,-0.5,51.6,-0.76,51.585,-0.9,51.54,-0.89,51.51,-0.8,51.48],[-0.25,51.59,-0.5,51.59,-0.72,51.57,-0.84,51.53,-0.83,51.505,-0.76,51.48],
[-0.3,51.58,-0.55,51.6,-0.78,51.58,-1.0,51.53,-0.99,51.495,-0.85,51.478],[-0.1,51.355,-0.45,51.33,-0.8,51.34,-0.97,51.38,-0.98,51.43,-0.88,51.467],[-0.15,51.34,-0.4,51.33,-0.7,51.35,-0.9,51.38,-0.93,51.42,-0.85,51.467],
[-0.3,51.42,-0.4,51.44,-0.55,51.4,-0.7,51.38],[-0.44,51.32,-0.55,51.36,-0.6,51.41,-0.5,51.43,-0.45,51.4],[-0.48,51.39,-0.55,51.43,-0.6,51.38,-0.72,51.37],[-0.37,51.55,-0.3,51.55,-0.2,51.6,-0.35,51.56],
[-0.3,51.62,-0.1,51.58,0.06,51.55,0.07,51.5,-0.05,51.47],[-0.25,51.58,-0.08,51.56,0.08,51.53,0.05,51.48,-0.08,51.465],[-0.02,51.46,0.08,51.46,0.14,51.44,0.12,51.4,0.02,51.39],[-0.02,51.46,0.1,51.46,0.12,51.42,0.08,51.4],
[-0.72,51.75,-0.75,51.7,-0.66,51.67,-0.58,51.66,-0.55,51.7,-0.6,51.75,-0.68,51.76,-0.72,51.71,-0.62,51.67,-0.56,51.68,-0.58,51.73,-0.6,51.68,-0.5,51.6],
[-0.7,51.74,-0.73,51.7,-0.64,51.68,-0.57,51.68,-0.59,51.74,-0.66,51.74,-0.68,51.7,-0.6,51.66,-0.52,51.67,-0.54,51.72,-0.58,51.71,-0.55,51.66,-0.45,51.61]
];
const panels=[
 {x:[7.5,9.5],y:[49.5,50.7],xv:[8,9],xt:["8","9"],yv:[49.6,50,50.4],yt:["49.6","50.0","50.4"],col:98,w:238},
 {x:[1,4],y:[48.5,49.4],xv:[1,2,3,4],xt:["1","2","3","4"],yv:[48.6,49,49.4],yt:["48.6","49.0","49.4"],col:417,w:238},
 {x:[3.5,6],y:[51.7,52.8],xv:[4,5,6],xt:["4","5","6"],yv:[51.8,52.2,52.6],yt:["51.8","52.2","52.6"],col:737,w:238},
 {x:[-1.3,0.5],y:[51,52],xv:[-1,0],xt:["\u22121","0"],yv:[51,51.5,52],yt:["51.0","51.5","52.0"],col:1055,w:238}
];
const rows=[
 {top:44,colour:"rgba(0,0,255,0.6)",sets:[eddfBlue,lfpgCommon.concat(lfpgBlueOnly),ehamBlue,egllCommon.concat(egllBlueOnly)]},
 {top:400,colour:"rgba(255,0,0,0.6)",sets:[eddfRed,lfpgCommon.concat(lfpgRedOnly),ehamRed,egllCommon.concat(egllRedOnly)]}
];
const W=1295,H=764,PH=297,FONT="DejaVu Sans, sans-serif";
const traces=[],layout={width:W,height:H,margin:{l:0,r:0,t:0,b:0},paper_bgcolor:"#fff",plot_bgcolor:"#fff",showlegend:false,hovermode:false,annotations:[]};
rows.forEach((row,r)=>panels.forEach((p,c)=>{
 const n=r*4+c+1,sx=n===1?"":String(n);
 row.sets[c].forEach(t=>{
  const xs=[],ys=[];
  for(let i=0;i<t.length;i+=2){xs.push(t[i]);ys.push(t[i+1]);}
  traces.push({type:"scatter",mode:"lines",x:xs,y:ys,xaxis:"x"+sx,yaxis:"y"+sx,
   line:{color:row.colour,width:2.8,shape:"spline",smoothing:0.7},hoverinfo:"skip"});
 });
 const common={showgrid:false,zeroline:false,showline:true,mirror:true,linecolor:"#000",linewidth:1.3,ticks:"outside",ticklen:5.5,tickwidth:1.3,tickcolor:"#000",tickfont:{family:FONT,size:17.5,color:"#000"},tickmode:"array"};
 layout["xaxis"+sx]=Object.assign({},common,{domain:[p.col/W,(p.col+p.w)/W],range:p.x,tickvals:p.xv,ticktext:p.xt,anchor:"y"+sx,ticklabelstandoff:1,
   title:r===1?{text:"Longitude",font:{family:FONT,size:28,color:"#000"},standoff:8}:undefined});
 layout["yaxis"+sx]=Object.assign({},common,{domain:[1-(row.top+PH)/H,1-row.top/H],range:p.y,tickvals:p.yv,ticktext:p.yt,anchor:"x"+sx,ticklabelstandoff:2,
   title:c===0?{text:"Latitude",font:{family:FONT,size:28,color:"#000"},standoff:8}:undefined});
 if(r===0)layout.annotations.push({text:airports[c],xref:"paper",yref:"paper",x:p.col/W,y:1-39/H,xanchor:"left",yanchor:"bottom",showarrow:false,xshift:-1,borderpad:0,font:{family:FONT,size:31.5,color:"#000"}});
}));
Plotly.newPlot("chart",traces,layout,{staticPlot:true,displayModeBar:false});
</script></body></html>
